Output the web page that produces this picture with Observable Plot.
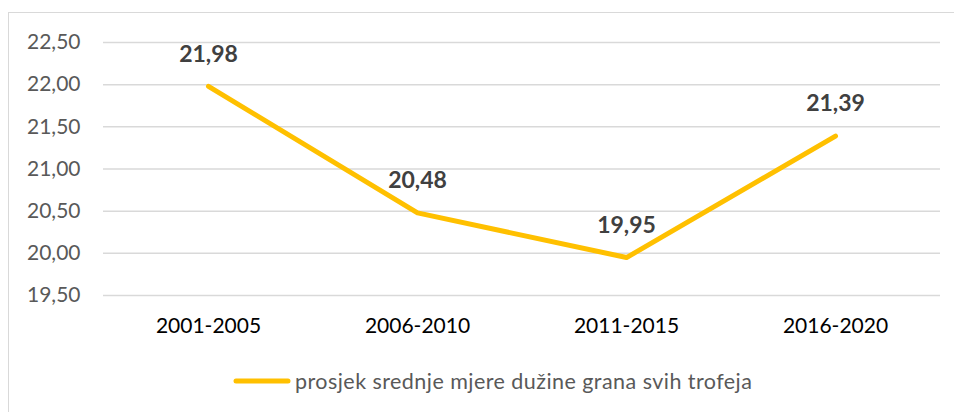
<!DOCTYPE html>
<html>
<head>
<meta charset="utf-8">
<script src="https://cdn.jsdelivr.net/npm/d3@7"></script>
<script src="https://cdn.jsdelivr.net/npm/@observablehq/plot@0.6"></script>
<style>
  html, body { margin: 0; padding: 0; background: #fff; }
  #wrap { position: relative; width: 954px; height: 412px; overflow: hidden; font-family: Lato, "Open Sans", sans-serif; }
  #frame { position: absolute; left: 8px; top: 12px; width: 1000px; height: 500px; border: 1px solid #d9d9d9; box-sizing: border-box; }
  #chart { position: absolute; left: 0; top: 0; }
  #legend { position: absolute; left: 233px; top: 366px; height: 30px; display: flex; align-items: center; font-size: 21.5px; letter-spacing: 0.45px; color: #595959; white-space: nowrap; }
  #legend svg { display: block; margin-right: 4px; }
</style>
</head>
<body>
<div id="wrap">
  <div id="frame"></div>
  <div id="chart"></div>
  <div id="legend"></div>
</div>
<script>
const periods = ["2001-2005", "2006-2010", "2011-2015", "2016-2020"];
const values = [21.98, 20.48, 19.95, 21.39];
const yTicks = [19.5, 20.0, 20.5, 21.0, 21.5, 22.0, 22.5];
const seriesName = "prosjek srednje mjere dužine grana svih trofeja";
const lineColor = "#FFC000";

const data = periods.map((p, i) => ({period: p, value: values[i]}));
const fmt = v => d3.format(".2f")(v).replace(".", ",");

const chart = Plot.plot({
  width: 954,
  height: 350,
  marginLeft: 103,
  marginRight: 14,
  marginTop: 42,
  marginBottom: 55,
  style: {fontFamily: "Lato, 'Open Sans', sans-serif", background: "transparent"},
  x: {type: "point", domain: periods, padding: 0.5, label: null},
  y: {domain: [19.5, 22.5], label: null},
  marks: [
    Plot.ruleY(yTicks, {stroke: "#d9d9d9", strokeWidth: 1.5}),
    Plot.axisY({ticks: yTicks, tickFormat: fmt, tickSize: 0, tickPadding: 23, fontSize: 21, color: "#595959", label: null}),
    Plot.axisX({tickSize: 0, tickPadding: 23, fontSize: 21, color: "#000", label: null}),
    Plot.line(data, {x: "period", y: "value", stroke: lineColor, strokeWidth: 5, strokeLinecap: "round", strokeLinejoin: "round"}),
    Plot.text(data, {x: "period", y: "value", text: d => fmt(d.value), dy: -32, fontSize: 23, fontWeight: "bold", fill: "#404040"})
  ]
});
document.getElementById("chart").appendChild(chart);

const legend = document.getElementById("legend");
legend.innerHTML = `<svg width="58" height="10"><line x1="3" y1="5" x2="55" y2="5" stroke="${lineColor}" stroke-width="5" stroke-linecap="round"/></svg><span>${seriesName}</span>`;
</script>
</body>
</html>
